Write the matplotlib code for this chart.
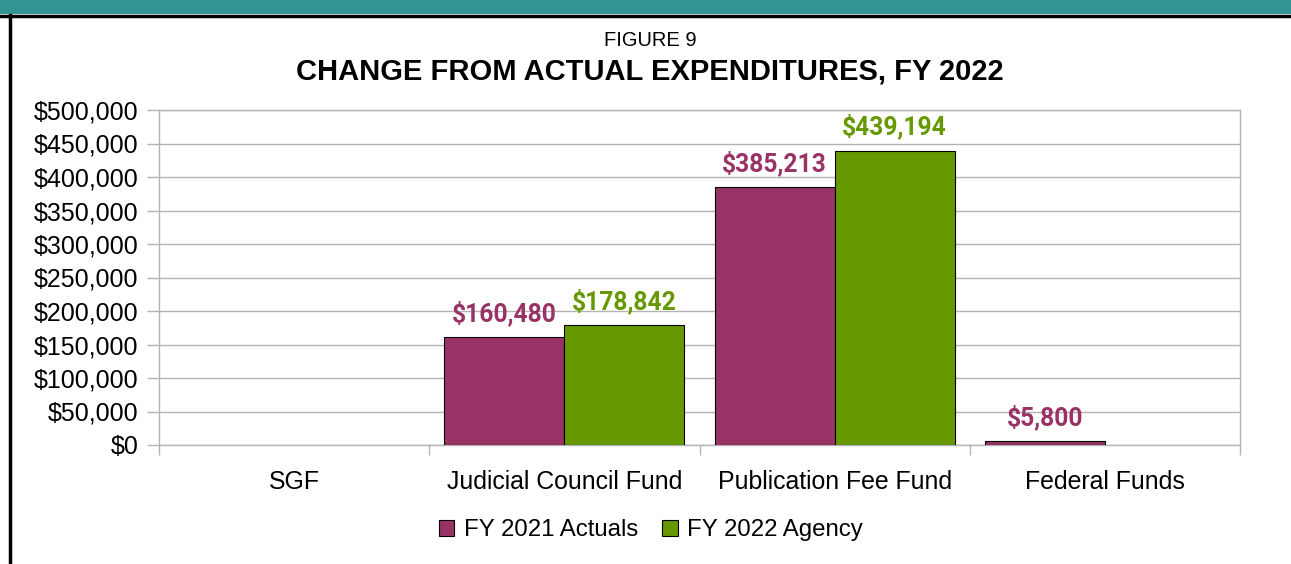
import matplotlib
matplotlib.use("Agg")
import matplotlib.pyplot as plt
from matplotlib.patches import Rectangle
from matplotlib.lines import Line2D
import numpy as np

categories = ["SGF", "Judicial Council Fund", "Publication Fee Fund", "Federal Funds"]
fy2021_actuals = [0, 160480, 385213, 5800]
fy2022_agency = [0, 178842, 439194, 0]
series_names = ["FY 2021 Actuals", "FY 2022 Agency"]
yticks = list(range(0, 500001, 50000))

purple = "#993366"
green = "#669900"

plt.rcParams['font.family'] = ['Liberation Sans', 'DejaVu Sans']

fig = plt.figure(figsize=(12.91, 5.64), dpi=100)
ax = fig.add_axes([159/1291, 1-445/564, (1240-159)/1291, (445-110)/564])

x = np.arange(len(categories))
w = 120/270
b1 = ax.bar(x - w/2, fy2021_actuals, width=w, color=purple, edgecolor="#000000", linewidth=0.8, zorder=3)
b2 = ax.bar(x + w/2, fy2022_agency, width=w, color=green, edgecolor="#000000", linewidth=0.8, zorder=3)

for bars, vals, col in [(b1, fy2021_actuals, purple), (b2, fy2022_agency, green)]:
    for rect, v in zip(bars, vals):
        if v == 0:
            rect.set_visible(False)
            continue
        ax.annotate(f"${v:,.0f}", (rect.get_x() + rect.get_width()/2, v),
                    xytext=(0, 8), textcoords="offset points", ha="center", va="bottom",
                    fontsize=17.7, fontweight="bold", color=col, family=['Roboto', 'DejaVu Sans'])

ax.set_xlim(-0.5, len(categories) - 0.5)
ax.set_ylim(0, 500000)
ax.set_yticks(yticks)
ax.set_yticklabels([f"${t:,.0f}" for t in yticks], fontsize=18)
ax.yaxis.grid(True, color="#b3b3b3", linewidth=1, zorder=0)
ax.set_xticks(np.arange(-0.5, len(categories), 1.0))
ax.set_xticklabels([])
ax.set_xticks(x, minor=True)
ax.set_xticklabels(categories, minor=True, fontsize=17.9)
ax.tick_params(axis='x', which='major', length=7, color="#b3b3b3", width=1)
ax.tick_params(axis='x', which='minor', length=0, pad=18)
ax.tick_params(axis='y', length=9, color="#b3b3b3", width=1, pad=6)
for s in ax.spines.values():
    s.set_color("#b3b3b3")
    s.set_linewidth(1)

fig.text(650/1291, 1-40/564, "FIGURE 9", ha="center", va="center", fontsize=14.5)
fig.text(650/1291, 1-71.5/564, "CHANGE FROM ACTUAL EXPENDITURES, FY 2022", ha="center", va="center",
         fontsize=21, fontweight="bold")

handles = [Rectangle((0, 0), 1, 1, facecolor=purple, edgecolor="#000000", linewidth=0.8),
           Rectangle((0, 0), 1, 1, facecolor=green, edgecolor="#000000", linewidth=0.8)]
fig.legend(handles, series_names, loc="center", bbox_to_anchor=(651/1291, 1-530/564), ncol=2,
           frameon=False, fontsize=17.3, handlelength=0.65, handleheight=0.65, handletextpad=0.4,
           columnspacing=1.0)

# decorative frame
fig.patches.append(Rectangle((0, 1-14/564), 1, 14/564, transform=fig.transFigure,
                             facecolor="#339494", edgecolor="none"))
fig.lines.append(Line2D([0, 1], [1-15.5/564, 1-15.5/564], transform=fig.transFigure, color="black", linewidth=2.5))
fig.lines.append(Line2D([9.5/1291, 9.5/1291], [0, 1-15/564], transform=fig.transFigure, color="black", linewidth=2.5))

fig.savefig("out.png", dpi=100)
